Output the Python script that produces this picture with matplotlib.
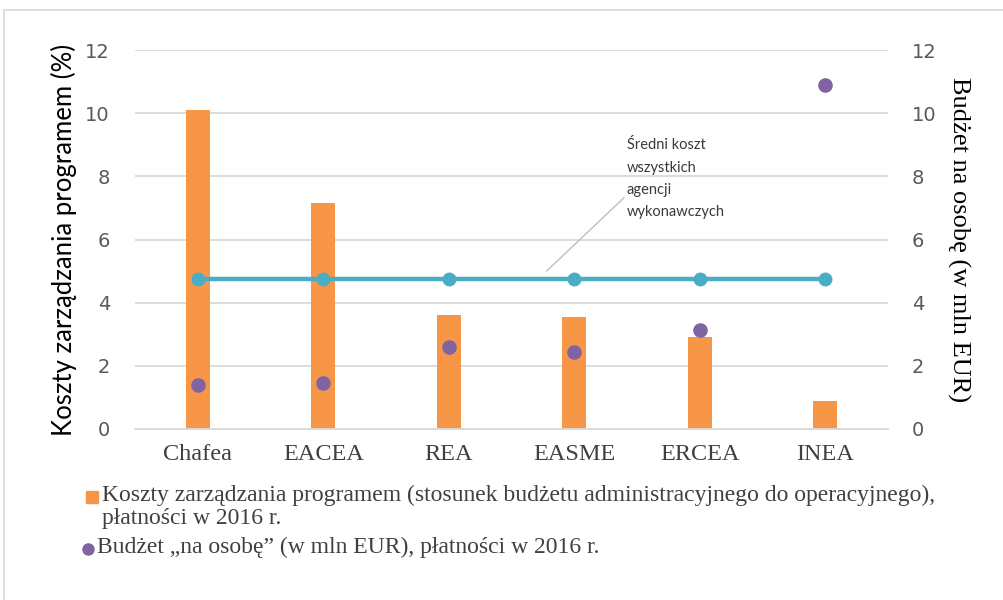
import matplotlib
matplotlib.use("Agg")
import matplotlib.pyplot as plt
from matplotlib.lines import Line2D
from matplotlib.patches import Rectangle

categories = ["Chafea", "EACEA", "REA", "EASME", "ERCEA", "INEA"]
admin_cost_pct = [10.1, 7.15, 3.6, 3.55, 2.9, 0.9]
budget_per_person = [1.39, 1.45, 2.6, 2.45, 3.15, 10.9]
average_cost = [4.75, 4.75, 4.75, 4.75, 4.75, 4.75]
yticks = [0, 2, 4, 6, 8, 10, 12]

legend_bar = "Koszty zarządzania programem (stosunek budżetu administracyjnego do operacyjnego),\npłatności w 2016 r."
legend_dot = "Budżet „na osobę” (w mln EUR), płatności w 2016 r."
annot_text = "Średni koszt\nwszystkich\nagencji\nwykonawczych"

W, H = 1004, 600
fig = plt.figure(figsize=(W / 100, H / 100), dpi=100)
fig.patch.set_facecolor("white")

# outer frame
fig.add_artist(Rectangle((4 / W, -0.1), 1.2, 1 - 10 / H + 0.1, transform=fig.transFigure,
                         fill=False, edgecolor="#d9d9d9", linewidth=1.2))

ax = fig.add_axes([135 / W, 1 - 429 / H, (888 - 135) / W, (429 - 50) / H])
ax2 = ax.twinx()

x = list(range(len(categories)))
ax.bar(x, admin_cost_pct, width=0.19, color="#F79646", zorder=2)
ax.plot(x, average_cost, color="#4BACC6", linewidth=3.2, marker="o", markersize=9, zorder=3)
ax2.scatter(x, budget_per_person, s=90, color="#8064A2", zorder=4)

for a in (ax, ax2):
    a.set_ylim(0, 12)
    a.set_yticks(yticks)
    a.set_xlim(-0.5, len(categories) - 0.5)
    for s in a.spines.values():
        s.set_visible(False)
ax.yaxis.grid(True, color="#d9d9d9", linewidth=1.3, zorder=0)
ax.set_axisbelow(True)
ax.spines["bottom"].set_visible(True)
ax.spines["bottom"].set_color("#d9d9d9")
ax.spines["bottom"].set_linewidth(1.3)

tickfont = dict(family=["DejaVu Sans"], size=14)
ax.set_yticks(yticks)
ax.set_yticklabels([str(v) for v in yticks], color="#595959", **tickfont)
ax2.set_yticklabels([str(v) for v in yticks], color="#595959", **tickfont)
ax.tick_params(axis="y", length=0, pad=18)
ax2.tick_params(axis="y", length=0, pad=17)
ax.set_xticks(x)
ax.set_xticklabels(categories, family="Liberation Serif", size=17.5, color="#404040")
ax.tick_params(axis="x", length=0, pad=11)

ax.set_ylabel("Koszty zarządzania programem (%)", family="Lato", size=18.5, color="black", labelpad=6)
ax2.set_ylabel("Budżet na osobę (w mln EUR)", family="Liberation Serif", size=19, color="black",
               rotation=270, labelpad=24)

# annotation
ax.annotate(annot_text, xy=(2.78, 5.0), xytext=(3.42, 9.2), xycoords="data", textcoords="data",
            ha="left", va="top", fontsize=10.5, family="Lato", color="#3a3a3a", linespacing=1.75,
            arrowprops=dict(arrowstyle="-", color="#bfbfbf", linewidth=1, shrinkA=0, shrinkB=0,
                            relpos=(0, 0.3)))

# legend (manual)
fig.add_artist(Line2D([92 / W], [1 - 497 / H], marker="s", markersize=8, color="#F79646",
                      linestyle="none", transform=fig.transFigure))
fig.text(102 / W, 1 - 485 / H, legend_bar, ha="left", va="top", family="Liberation Serif",
         size=17, color="#404040", linespacing=1.12)
fig.add_artist(Line2D([88 / W], [1 - 549 / H], marker="o", markersize=8, color="#8064A2",
                      linestyle="none", transform=fig.transFigure))
fig.text(97 / W, 1 - 537 / H, legend_dot, ha="left", va="top", family="Liberation Serif",
         size=17, color="#404040")

fig.savefig("out.png", dpi=100)
